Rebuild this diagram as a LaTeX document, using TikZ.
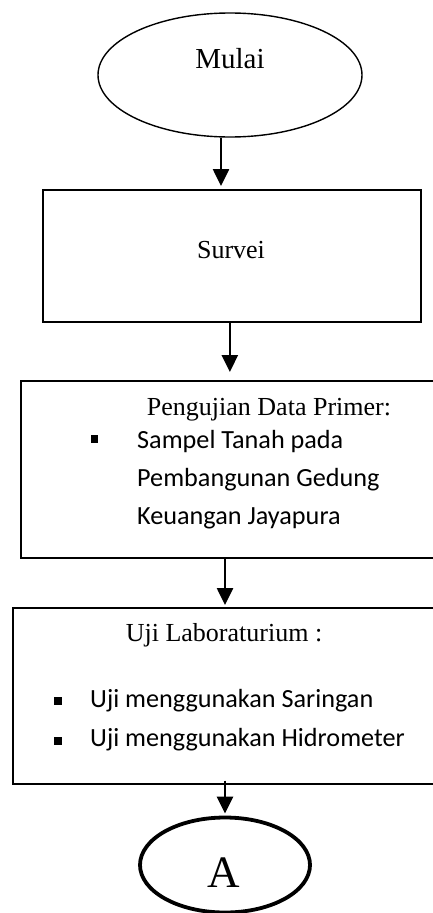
\documentclass[tikz,border=0pt]{standalone}
\usepackage{fontspec}
\setmainfont{Liberation Serif}
\newfontfamily\bodysans{Carlito}
\usetikzlibrary{arrows.meta,shapes.geometric,calc}

\tikzset{
  terminal/.style={ellipse, draw, line width=1.4pt, inner sep=0pt},
  connector/.style={ellipse, draw, line width=3.8pt, inner sep=0pt},
  stepbox/.style={rectangle, draw, line width=1.7pt, inner sep=0pt, anchor=north west},
  serif/.style={font=\fontsize{26}{30}\selectfont, inner sep=0pt, anchor=base},
  sans/.style={font=\bodysans\fontsize{26.2}{30}\selectfont, inner sep=0pt, anchor=base west},
  bulletmark/.style={rectangle, fill=black, minimum size=7.5pt, inner sep=0pt},
  flow/.style={line width=2.6pt, -{Triangle[width=16pt,length=17pt]}}
}

\begin{document}
\begin{tikzpicture}[x=1pt,y=1pt]
  \clip (0,0) rectangle (433,-913);

  % start terminal
  \node[terminal, minimum width=264pt, minimum height=124pt] (mulai) at (230,-75) {};
  \node[serif, font=\fontsize{29}{33}\selectfont] (tmulai) at (230,-68) {Mulai};

  % survey step
  \node[stepbox, minimum width=378pt, minimum height=132pt] (survei) at (42,-189) {};
  \node[serif] (tsurvei) at (231,-258) {Survei};

  % primary data step (runs past the right edge)
  \node[stepbox, minimum width=430pt, minimum height=177pt] (primer) at (20,-380) {};
  \node[serif] (tprimer) at (269,-415) {Pengujian Data Primer:};
  \node[bulletmark] (bp) at (94.5,-439) {};
  \node[sans] (p1) at (137,-448) {Sampel Tanah pada};
  \node[sans] (p2) at (137,-486.5) {Pembangunan Gedung};
  \node[sans] (p3) at (137,-524) {Keuangan Jayapura};

  % laboratory step (runs past the right edge)
  \node[stepbox, minimum width=440pt, minimum height=176pt] (lab) at (12,-607) {};
  \node[serif] (tlab) at (224,-641.5) {Uji Laboraturium :};
  \node[bulletmark] (bl1) at (58,-701) {};
  \node[sans] (l1) at (90,-707) {Uji menggunakan Saringan};
  \node[bulletmark] (bl2) at (58,-741) {};
  \node[sans] (l2) at (90,-746) {Uji menggunakan Hidrometer};

  % off-page connector
  \node[connector, minimum width=170pt, minimum height=95pt] (conA) at (225,-865) {};
  \node[serif, font=\fontsize{45}{50}\selectfont] (tA) at (224,-887) {A};

  % flow arrows
  \draw[flow] ([xshift=-9pt]mulai.south) -- ([xshift=-9pt,yshift=3pt]mulai.south |- survei.north);
  \draw[flow] ([xshift=-2pt]survei.south) -- ([xshift=-2pt,yshift=8pt]survei.south |- primer.north);
  \draw[flow] (225,-557) coordinate (a3) -- ([yshift=2pt]a3 |- lab.north);
  \draw[flow] ([yshift=4pt]lab.south -| conA.north) -- ([yshift=2pt]conA.north);
\end{tikzpicture}
\end{document}
